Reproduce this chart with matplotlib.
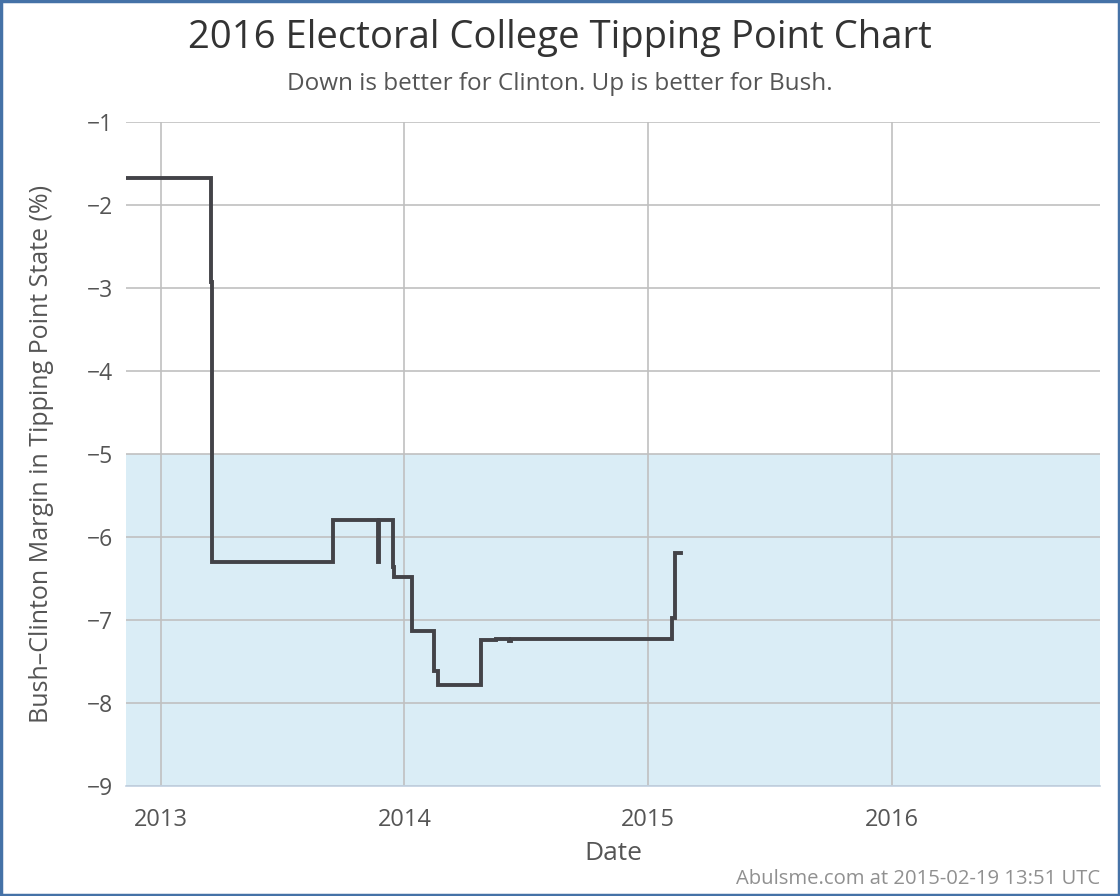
import matplotlib
matplotlib.use("Agg")
import matplotlib.pyplot as plt
import numpy as np
from datetime import datetime

plt.rcParams["font.family"] = ["Open Sans", "DejaVu Sans"]

# step points: (date, margin) -- value holds until next date
dates = [
    "2012-11-07", "2013-03-18", "2013-03-19", "2013-09-16", "2013-11-23",
    "2013-11-24", "2013-12-15", "2013-12-16", "2014-01-12", "2014-02-15",
    "2014-02-21", "2014-04-26", "2014-05-18", "2014-06-06", "2014-06-09",
    "2015-02-06", "2015-02-10", "2015-02-19",
]
margins = [
    -1.67, -2.93, -6.30, -5.79, -6.30,
    -5.79, -6.36, -6.48, -7.13, -7.62,
    -7.78, -7.24, -7.23, -7.25, -7.23,
    -6.97, -6.19, -6.19,
]
year_ticks = ["2013-01-01", "2014-01-01", "2015-01-01", "2016-01-01"]
year_labels = ["2013", "2014", "2015", "2016"]

d = [datetime.strptime(s, "%Y-%m-%d") for s in dates]
ticks = [datetime.strptime(s, "%Y-%m-%d") for s in year_ticks]

fig = plt.figure(figsize=(11.2, 8.96), dpi=100)
ax = fig.add_axes([126 / 1120, 1 - 786 / 896, (1100 - 126) / 1120, (786 - 122) / 896])

ax.axhspan(-9, -5, color="#daedf6", zorder=0, lw=0)
ax.step(d, margins, where="post", color="#434348", lw=2.8, zorder=3,
        solid_joinstyle="miter")

ax.set_xlim(datetime(2012, 11, 10), datetime(2016, 11, 8))
ax.set_ylim(-9, -1)
ax.set_yticks(np.arange(-9, 0, 1))
ax.set_yticklabels([f"\u2212{abs(v)}" for v in range(-9, 0)])
ax.set_xticks(ticks)
ax.set_xticklabels(year_labels)

ax.grid(True, color="#c0c0c0", lw=1.2, zorder=1)
for s in ["top", "right", "left"]:
    ax.spines[s].set_visible(False)
ax.spines["bottom"].set_color("#c0d0e0")
ax.spines["bottom"].set_linewidth(1.2)
ax.tick_params(axis="y", length=0, labelsize=16.5, labelcolor="#555555", pad=9)
ax.tick_params(axis="x", length=0, labelsize=17, labelcolor="#555555", pad=16)

ax.set_xlabel("Date", fontsize=19, color="#555555", labelpad=6)
ax.set_ylabel("Bush\u2013Clinton Margin in Tipping Point State (%)", fontsize=18,
              color="#555555", labelpad=24)

fig.text(0.5, 1 - 38 / 896, "2016 Electoral College Tipping Point Chart",
         ha="center", va="center", fontsize=27.5, color="#333333")
fig.text(0.5, 1 - 84 / 896, "Down is better for Clinton. Up is better for Bush.",
         ha="center", va="center", fontsize=17.5, color="#555555")
fig.text(1 - 20 / 1120, 1 - 879 / 896, "Abulsme.com at 2015-02-19 13:51 UTC",
         ha="right", va="center", fontsize=14.6, color="#909090")

border = plt.Rectangle((0.001, 0.001), 0.998, 0.998, transform=fig.transFigure,
                       fill=False, edgecolor="#4572a7", lw=2.5)
fig.patches.append(border)

fig.savefig("out.png", dpi=100)
